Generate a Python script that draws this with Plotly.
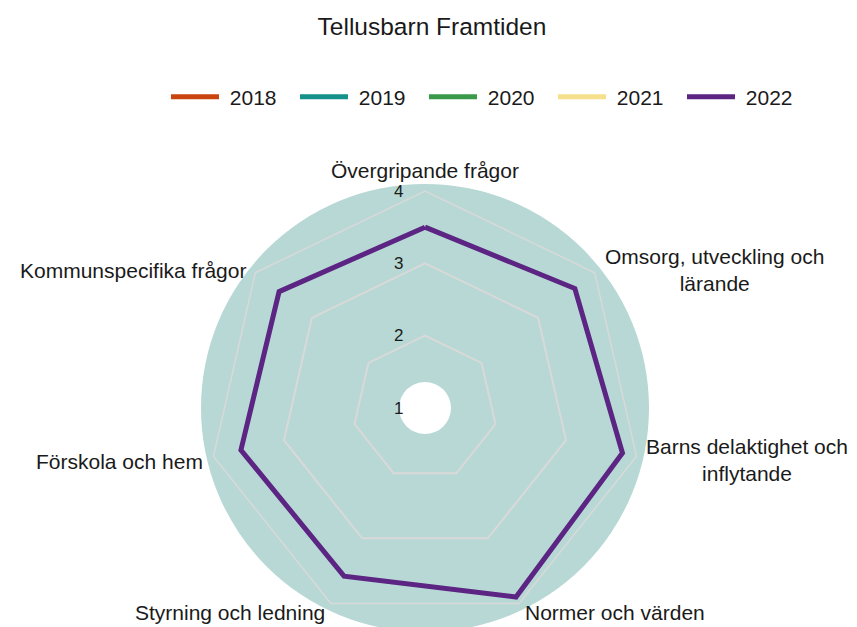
import plotly.graph_objects as go

# Categories (angular axis), clockwise from the top
categories = [
    "Övergripande frågor",
    "Omsorg, utveckling och<br>lärande",
    "Barns delaktighet och<br>inflytande",
    "Normer och värden",
    "Styrning och ledning",
    "Förskola och hem",
    "Kommunspecifika frågor",
]

years = ["2018", "2019", "2020", "2021", "2022"]
colors = ["#c9440e", "#14918a", "#3b9a4a", "#f6e08c", "#5c2483"]

# Only 2022 has values in the picture
values_2018 = [None] * 7
values_2019 = [None] * 7
values_2020 = [None] * 7
values_2021 = [None] * 7
values_2022 = [3.50, 3.65, 3.80, 3.90, 3.58, 3.61, 3.58]

radial_ticks = [1, 2, 3, 4]

FONT = "Liberation Sans, Arial, sans-serif"
W, H = 857, 627
CX, CY = 417, 227          # centre of the radar, px from bottom-left
R = 217                    # radius of the value axis (1..4)
R_BG = 224                 # teal disc
R_HOLE = 26                # white centre

# where the category names sit (px from top-left), Excel-style placement
label_pos = [(417, 162), (706, 262), (739, 452), (607, 604),
             (222, 604), (111, 453), (125, 263)]

series = [values_2018, values_2019, values_2020, values_2021, values_2022]

fig = go.Figure()
for year, col, vals in zip(years, colors, series):
    fig.add_trace(go.Scatterpolar(
        r=vals + vals[:1],
        theta=categories + categories[:1],
        mode="lines",
        name="\u00a0" + year,
        line=dict(color=col, width=5),
        hoverinfo="r+theta+name",
    ))

annotations = []
for name, (px, py) in zip(categories, label_pos):
    annotations.append(dict(
        text=name, x=px / W, y=1 - py / H, xref="paper", yref="paper",
        xanchor="center", yanchor="middle", align="center",
        showarrow=False, font=dict(size=21, color="#1a1a1a"),
    ))

fig.update_layout(
    width=W, height=H,
    margin=dict(l=0, r=0, t=0, b=0),
    paper_bgcolor="white",
    font=dict(family=FONT, color="#1a1a1a"),
    title=dict(text="Tellusbarn Framtiden", x=424 / W, y=1 - 18 / H,
               xanchor="center", yanchor="middle",
               font=dict(size=24.5, color="#1a1a1a")),
    legend=dict(orientation="h", x=158 / W, xanchor="left",
                y=1 - 89 / H, yanchor="middle",
                font=dict(size=21), itemwidth=48,
                entrywidth=66, entrywidthmode="pixels"),
    showlegend=True,
    annotations=annotations,
    polar=dict(
        domain=dict(x=[(CX - R) / W, (CX + R) / W],
                    y=[(CY - R) / H, (CY + R) / H]),
        bgcolor="rgba(0,0,0,0)",
        gridshape="linear",
        radialaxis=dict(
            range=[1, 4], tickvals=radial_ticks, angle=90, tickangle=90,
            side="counterclockwise", showline=False,
            showgrid=True, gridcolor="#d9d9d9", gridwidth=1.5,
            ticks="outside", ticklen=15, tickcolor="rgba(0,0,0,0)",
            tickfont=dict(size=17, color="#1a1a1a"),
        ),
        angularaxis=dict(
            direction="clockwise", rotation=90,
            showgrid=False, showline=True, linecolor="#d9d9d9",
            linewidth=1.5, ticks="", showticklabels=False,
        ),
    ),
    shapes=[
        dict(type="circle", xref="paper", yref="paper", layer="below",
             x0=(CX - R_BG) / W, x1=(CX + R_BG) / W,
             y0=(CY - R_BG) / H, y1=(CY + R_BG) / H,
             fillcolor="#b7d8d5", line=dict(width=0)),
        dict(type="circle", xref="paper", yref="paper", layer="below",
             x0=(CX - R_HOLE) / W, x1=(CX + R_HOLE) / W,
             y0=(CY - R_HOLE) / H, y1=(CY + R_HOLE) / H,
             fillcolor="white", line=dict(width=0)),
    ],
)

fig.write_html("out.html")
